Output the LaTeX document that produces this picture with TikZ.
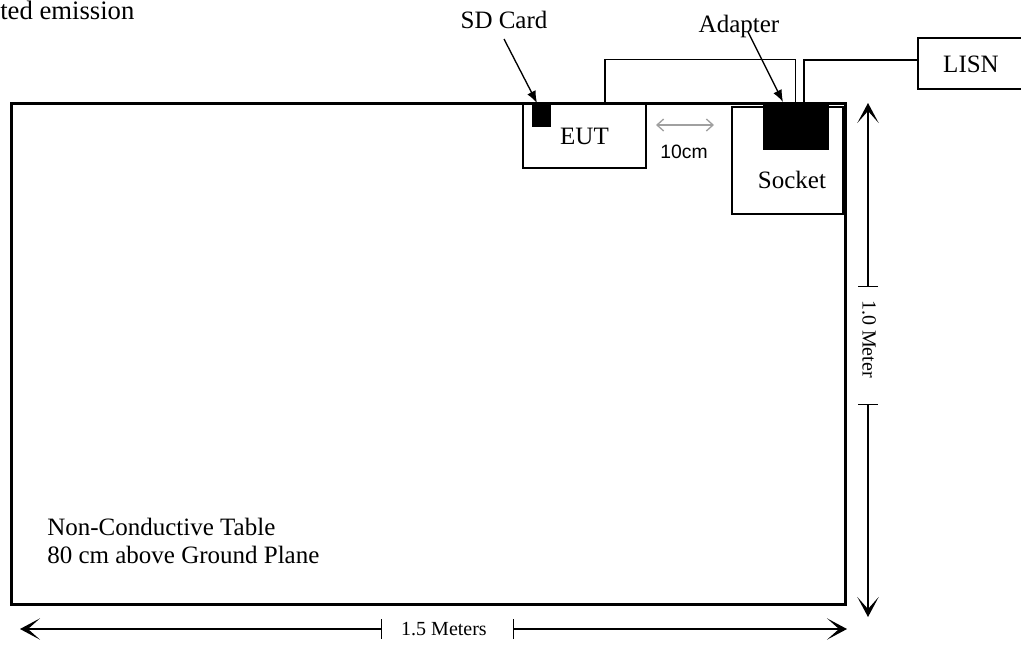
\documentclass[tikz,border=0pt]{standalone}
\usepackage{fontspec}
\setmainfont{Liberation Serif}
\newfontfamily\arialf{Liberation Sans}
\usetikzlibrary{arrows.meta}
\begin{document}
\begin{tikzpicture}[x=0.75pt,y=-0.75pt,
  lbl/.style={inner sep=0pt, anchor=base, font=\fontsize{18.75}{21}\selectfont},
  dimlbl/.style={inner sep=0pt, font=\fontsize{15}{17}\selectfont},
  thinbox/.style={draw, line width=1.1pt, inner sep=0pt},
  blackbox/.style={draw, fill=black, line width=0.5pt, inner sep=0pt},
  cable/.style={line width=0.9pt},
  ptr/.style={line width=1pt, -{Latex[length=9pt,width=7pt]}},
  dimline/.style={line width=1.1pt, {Bar[width=15pt]}-{Stealth[length=15pt,width=16pt,inset=9pt]}},
  gaparrow/.style={line width=1pt, draw={rgb,255:red,160;green,160;blue,160}, {Straight Barb[length=5pt,width=9pt]}-{Straight Barb[length=5pt,width=9pt]}}
]
\useasboundingbox (0,0) rectangle (1021,644);
\clip (0,0) rectangle (1021,644);

% title fragment
\node[lbl, anchor=base west, font=\fontsize{20}{22}\selectfont] (title) at (0,19) {ted emission};

% table
\node[draw, line width=2.25pt, inner sep=0pt, minimum width=625.5pt, minimum height=375.75pt] (table) at (428.5,353.5) {};

% EUT and SD card
\node[thinbox, minimum width=92.25pt, minimum height=48pt, font=\fontsize{18.75}{21}\selectfont] (eut) at (584.5,136) {EUT};
\node[blackbox, minimum width=13.5pt, minimum height=16.5pt] (sd) at (541,115) {};

% socket and adapter
\node[thinbox, minimum width=83.25pt, minimum height=80.25pt] (socket) at (787.5,160.5) {};
\node[lbl] (sockettxt) at (792,188) {Socket};
\node[blackbox, minimum width=48.75pt, minimum height=34.5pt] (adapter) at (795.5,126) {};

% LISN
\node[thinbox, minimum width=91.5pt, minimum height=38.25pt] (lisn) at (979,63.5) {};
\node[lbl] (lisntxt) at (971,72) {LISN};

% labels with pointers
\node[lbl] (sdlbl) at (504,28) {SD Card};
\node[lbl] (adlbl) at (739,32) {Adapter};
\coordinate (sdstart) at (504,39);
\coordinate (sdtip) at (537,103);
\coordinate (adstart) at (748,32);
\coordinate (adtip) at (783,102);
\draw[ptr] (sdstart) -- (sdtip);
\draw[ptr] (adstart) -- (adtip);

% cables
\draw[cable] ([xshift=15.4pt]eut.north) -- ++(0,-44) -| (adapter.north);
\draw[cable] ([xshift=6.4pt]adapter.north) |- ([yshift=2.6pt]lisn.west);

% 10 cm gap
\coordinate (g1) at (656,125);
\coordinate (g2) at (714,125);
\draw[gaparrow] (g1) -- (g2);
\node[inner sep=0pt, anchor=base, font=\arialf\fontsize{14.5}{16}\selectfont] (gaplbl) at (684,158) {10cm};

% vertical dimension
\coordinate (v1) at (868,287);
\coordinate (v1t) at (868,103);
\coordinate (v2) at (868,404);
\coordinate (v2t) at (868,617);
\draw[dimline] (v1) -- (v1t);
\draw[dimline] (v2) -- (v2t);
\node[dimlbl, rotate=-90] (vlbl) at (869,339) {1.0 Meter};

% horizontal dimension
\coordinate (h1) at (382,629);
\coordinate (h1t) at (20,629);
\coordinate (h2) at (513,629);
\coordinate (h2t) at (847,629);
\draw[dimline] (h1) -- (h1t);
\draw[dimline] (h2) -- (h2t);
\node[dimlbl, anchor=base] (hlbl) at (444,635) {1.5 Meters};

% table caption
\node[lbl, anchor=base west] (cap1) at (47,535) {Non-Conductive Table};
\node[lbl, anchor=base west] (cap2) at (47,563) {80 cm above Ground Plane};
\end{tikzpicture}
\end{document}
